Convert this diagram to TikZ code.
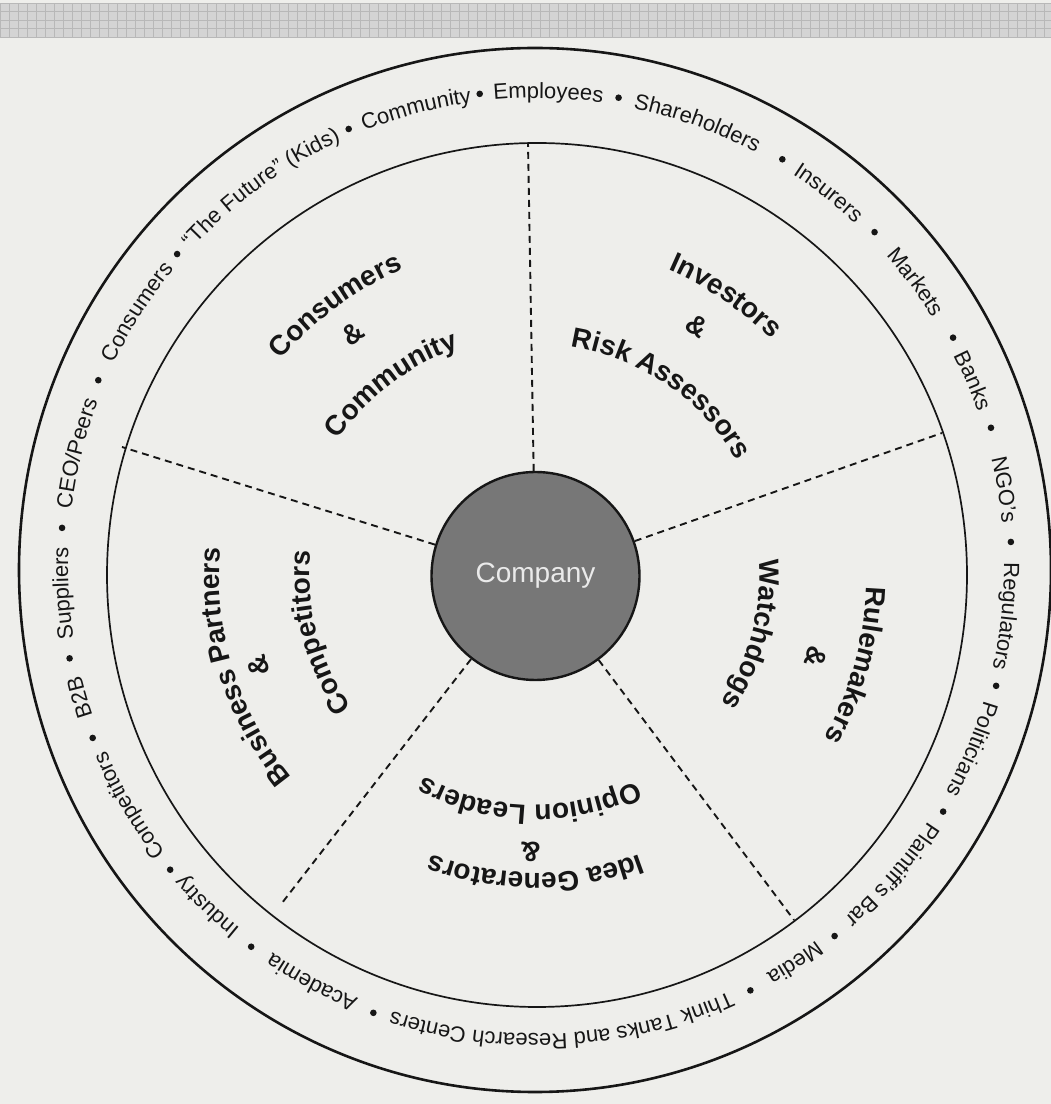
\documentclass[tikz,border=0pt]{standalone}
\usepackage{fontspec}
\setmainfont{Liberation Sans}
\usetikzlibrary{decorations.text}
\definecolor{paper}{HTML}{EEEEEB}
\definecolor{ink}{HTML}{161616}
\definecolor{bandc}{HTML}{D4D4D4}
\definecolor{gridc}{HTML}{B8B8B8}
\definecolor{compfill}{HTML}{777777}
\definecolor{comptext}{HTML}{EAEAEA}
\newcommand\ringfont{\fontsize{22}{24}\selectfont}
\newcommand\secfont{\bfseries\fontsize{28}{30}\selectfont}
% ring item: angle, text (clockwise, tops outward)
\newcommand\ritem[2]{\path[decorate,decoration={text along path,text align=center,text color=ink,text={|\ringfont|#2}}] (tc) ++(#1+40:468pt) arc[start angle=#1+40,end angle=#1-40,radius=468pt];}
\newcommand\rdot[1]{\fill[ink] (tc) ++(#1:475.5pt) circle[radius=3.3pt];}
% section text: angle, baseline radius, text
\newcommand\stext[3]{\path[decorate,decoration={text along path,text align=center,text color=ink,text={|\secfont|#3}}] (cc) ++(#1+60:#2pt) arc[start angle=#1+60,end angle=#1-60,radius=#2pt];}
\newcommand\samp[3]{\node[font=\secfont,text=ink,anchor=base,rotate={#2-90},inner sep=0pt] (#1) at ([shift={(#2:#3pt)}]cc) {\&};}
\begin{document}
\begin{tikzpicture}[x=1pt,y=1pt,
  sepline/.style={dash pattern=on 7pt off 5pt,line width=1.9pt,draw=ink}]
\useasboundingbox (0,0) rectangle (1051,1104);
\fill[paper] (0,0) rectangle (1051,1104);
% top grid band
\fill[bandc] (0,1067) rectangle (1051,1101);
\foreach \x in {0,9,...,1051} {\draw[gridc,line width=0.8pt] (\x,1067) -- (\x,1101);}
\foreach \y in {1067,1075.5,...,1101} {\draw[gridc,line width=0.8pt] (0,\y) -- (1051,\y);}
% centres
\coordinate (oc) at (535,534);
\coordinate (ic) at (537,529);
\coordinate (tc) at (536,538);
\coordinate (cc) at (535.5,528);
% rings
\draw[ink,line width=2.6pt] (oc) ellipse[x radius=516pt,y radius=522pt];
\draw[ink,line width=1.7pt] (ic) ellipse[x radius=430pt,y radius=432pt];
% company
\node[circle,draw=ink,line width=2.4pt,fill=compfill,minimum size=208pt,inner sep=0pt,
  text=comptext,font=\fontsize{28}{30}\selectfont] (co) at (cc) {Company};
% separators
\coordinate (e1) at (528,961);
\coordinate (e2) at (942,671);
\coordinate (e3) at (794,184);
\coordinate (e4) at (282,201);
\coordinate (e5) at (122,657);
\foreach \e in {e1,e2,e3,e4,e5} {\draw[sepline] (co) -- (\e);}
% ring texts
\ritem{88.5}{Employees}
\ritem{70}{Shareholders}
\ritem{51.9}{Insurers}
\ritem{36.8}{Markets}
\ritem{23}{Banks}
\ritem{9.3}{NGO’s}
\ritem{-6.1}{Regulators}
\ritem{-22.8}{Politicians}
\ritem{-40.9}{Plaintiff’s Bar}
\ritem{-56.9}{Media}
\ritem{-86.7}{Think Tanks and Research Centers}
\ritem{-118.3}{Academia}
\ritem{-134}{Industry}
\ritem{-149.5}{Competitors}
\ritem{-163.9}{B2B}
\ritem{-176.7}{Suppliers}
\ritem{166.2}{CEO/Peers}
\ritem{147.5}{Consumers}
\ritem{126}{“The Future” (Kids)}
\ritem{104.7}{Community}
\foreach \a in {96.8,80,58.8,44.6,28.7,16.9,2.9,-14.6,-31.1,-51.1,-63.2,-110,-126.8,-140.3,-158.8,-168.8,-184.6,157,139,113.2} {\rdot{\a}}
% section labels
\stext{126.5}{334}{Consumers}
\samp{a1}{127}{294}
\stext{127}{240}{Community}
\stext{55.8}{334}{Investors}
\samp{a2}{57}{288}
\stext{55.5}{232}{Risk Assessors}
\stext{-15.5}{331}{Rulemakers}
\samp{a3}{-16}{282}
\stext{-15}{224}{Watchdogs}
\stext{-90}{297}{Idea Generators}
\samp{a4}{-91}{266}
\stext{-91.5}{229}{Opinion Leaders}
\stext{197.2}{316}{Business Partners}
\samp{a5}{198}{282}
\stext{194.6}{226}{Competitors}
\end{tikzpicture}
\end{document}
